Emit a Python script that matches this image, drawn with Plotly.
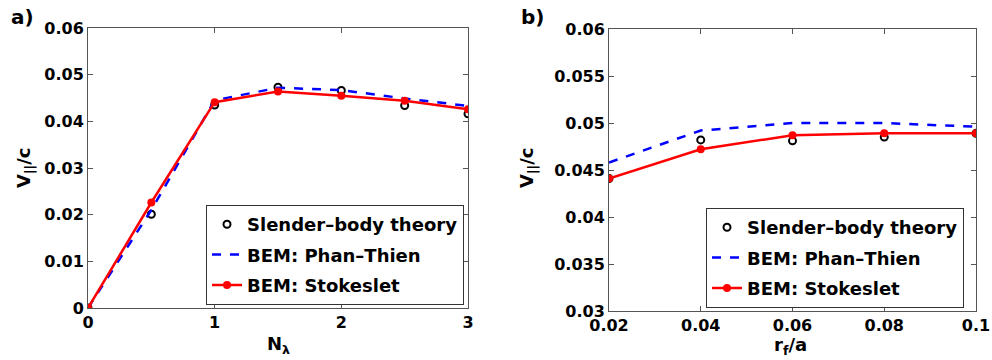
import plotly.graph_objects as go

# ---- data panel a ----
n_lambda = [0, 0.5, 1, 1.5, 2, 2.5, 3]
sbt_a = [0.0, 0.0201, 0.0435, 0.0473, 0.0466, 0.0434, 0.0416]
phan_a = [0.0, 0.0210, 0.0445, 0.0472, 0.0467, 0.0449, 0.0433]
stokes_a = [0.0, 0.0226, 0.0441, 0.0464, 0.0455, 0.0444, 0.0426]

# ---- data panel b ----
rf_a = [0.02, 0.04, 0.06, 0.08, 0.1]
sbt_b = [0.0441, 0.0482, 0.0481, 0.0485, 0.0489]
phan_b = [0.0458, 0.0492, 0.0500, 0.0500, 0.0496]
stokes_b = [0.0441, 0.0472, 0.0487, 0.0489, 0.0489]

names = ["Slender\u2013body theory", "BEM: Phan\u2013Thien", "BEM: Stokeslet"]

FONT = "DejaVu Sans"
fig = go.Figure()

def add_panel(x, sbt, phan, stokes, xa, ya, leg):
    fig.add_trace(go.Scatter(x=x, y=sbt, mode="markers", name=names[0],
                             marker=dict(symbol="circle-open", size=7, color="black",
                                         line=dict(width=2, color="black")),
                             xaxis=xa, yaxis=ya, legend=leg, legendgroup=leg + "1"))
    fig.add_trace(go.Scatter(x=x, y=phan, mode="lines", name=names[1],
                             line=dict(color="#0000ff", width=2.5, dash="dash"),
                             xaxis=xa, yaxis=ya, legend=leg, legendgroup=leg + "2"))
    fig.add_trace(go.Scatter(x=x, y=stokes, mode="lines+markers", name=names[2],
                             line=dict(color="#ff0000", width=2.5),
                             marker=dict(symbol="circle", size=8, color="#ff0000"),
                             xaxis=xa, yaxis=ya, legend=leg, legendgroup=leg + "3"))

add_panel(n_lambda, sbt_a, phan_a, stokes_a, "x", "y", "legend")
add_panel(rf_a, sbt_b, phan_b, stokes_b, "x2", "y2", "legend2")

W, H = 992, 360
def dom(a, b, total):
    return [a / total, b / total]

axis_common = dict(showline=True, linecolor="#555", linewidth=1, mirror="ticks",
                   ticks="inside", ticklen=5, tickcolor="#555", showgrid=False,
                   zeroline=False, automargin=False,
                   tickfont=dict(family=FONT, size=16, color="black", weight="bold"))

fig.update_layout(
    width=W, height=H, margin=dict(l=0, r=0, t=0, b=0),
    paper_bgcolor="white", plot_bgcolor="white",
    xaxis=dict(domain=dom(88, 468, W), range=[0, 3], tickvals=[0, 1, 2, 3], anchor="y", **axis_common),
    yaxis=dict(domain=[1 - 308 / H, 1 - 28 / H], range=[0, 0.06], dtick=0.01, anchor="x", **axis_common),
    xaxis2=dict(domain=dom(609, 976, W), range=[0.02, 0.1], tickvals=[0.02, 0.04, 0.06, 0.08, 0.1],
                ticktext=["0.02", "0.04", "0.06", "0.08", "0.1"], anchor="y2", **axis_common),
    yaxis2=dict(domain=[1 - 311 / H, 1 - 29 / H], range=[0.03, 0.06], anchor="x2",
                tickvals=[0.03, 0.035, 0.04, 0.045, 0.05, 0.055, 0.06],
                ticktext=["0.03", "0.035", "0.04", "0.045", "0.05", "0.055", "0.06"], **axis_common),
    legend=dict(x=206 / W, y=1 - 205 / H, xanchor="left", yanchor="top",
                bordercolor="#333", borderwidth=1, bgcolor="white",
                font=dict(family=FONT, size=18, color="black", weight="bold"),
                traceorder="grouped", tracegroupgap=4),
    legend2=dict(x=706 / W, y=1 - 208 / H, xanchor="left", yanchor="top",
                 bordercolor="#333", borderwidth=1, bgcolor="white",
                 font=dict(family=FONT, size=18, color="black", weight="bold"),
                 traceorder="grouped", tracegroupgap=4),
    showlegend=True,
)

tfont = dict(family=FONT, size=18, color="black", weight="bold")
ann = [
    dict(text="a)", x=22 / W, y=1 - 17 / H),
    dict(text="b)", x=532 / W, y=1 - 17 / H),
    dict(text="N<sub>\u03bb</sub>", x=278 / W, y=1 - 345 / H),
    dict(text="r<sub>f</sub>/a", x=790 / W, y=1 - 346 / H),
    dict(text="V<sub>||</sub>/c", x=25 / W, y=1 - 168 / H, textangle=-90),
    dict(text="V<sub>||</sub>/c", x=528 / W, y=1 - 168 / H, textangle=-90),
]
for a in ann:
    fig.add_annotation(xref="paper", yref="paper", showarrow=False,
                       xanchor="center", yanchor="middle",
                       font=dict(tfont, size=20 if a["text"].endswith(")") else 18), **a)

fig.write_html("out.html")
